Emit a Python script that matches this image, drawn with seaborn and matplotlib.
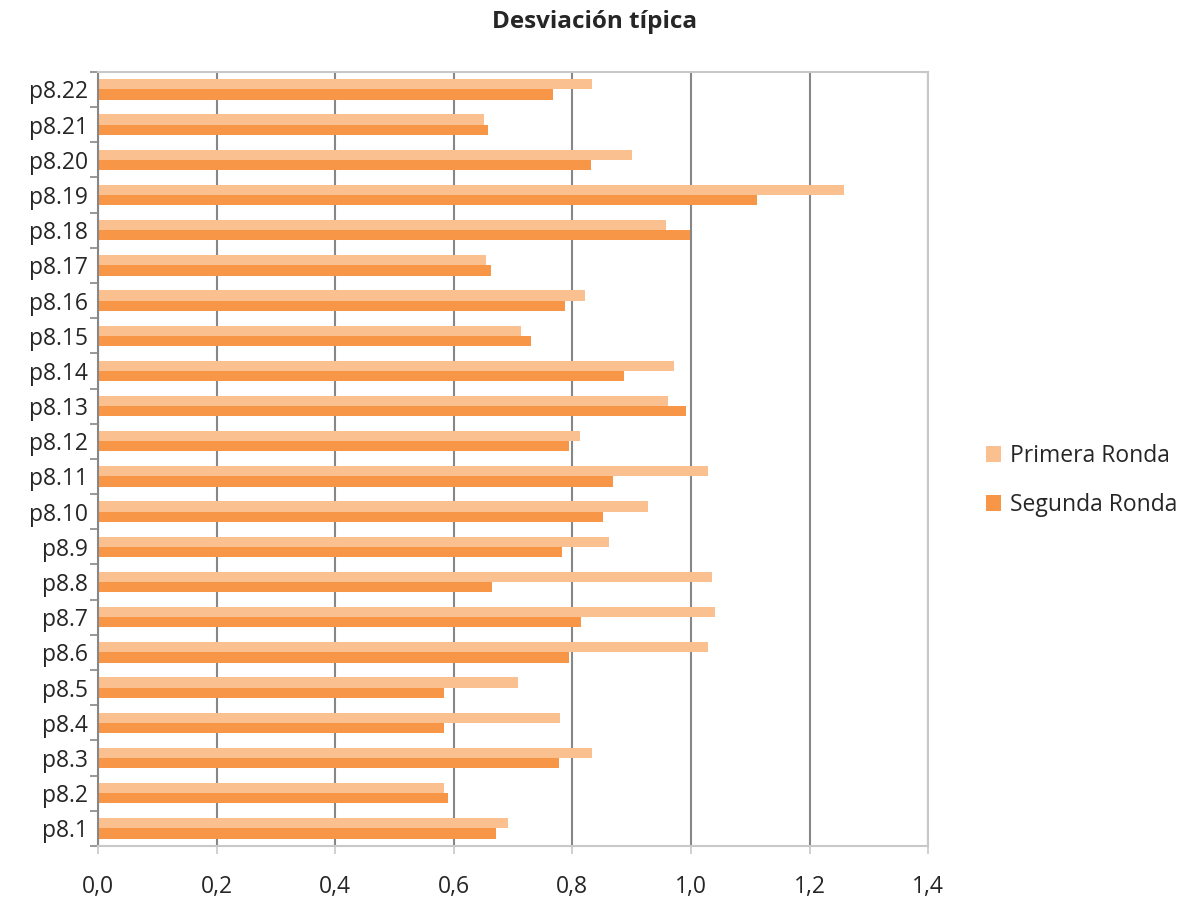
import pandas as pd
import seaborn as sns
import matplotlib
matplotlib.use('Agg')
import matplotlib.pyplot as plt
from matplotlib.ticker import FuncFormatter, FixedLocator

# -------------------------------------------------
# Datos
# -------------------------------------------------
items = ["p8.22", "p8.21", "p8.20", "p8.19", "p8.18", "p8.17", "p8.16", "p8.15",
         "p8.14", "p8.13", "p8.12", "p8.11", "p8.10", "p8.9", "p8.8", "p8.7",
         "p8.6", "p8.5", "p8.4", "p8.3", "p8.2", "p8.1"]
primera = [0.833, 0.651, 0.900, 1.258, 0.958, 0.654, 0.821, 0.714,
           0.971, 0.961, 0.813, 1.029, 0.927, 0.861, 1.036, 1.041,
           1.029, 0.708, 0.780, 0.833, 0.584, 0.691]
segunda = [0.768, 0.657, 0.832, 1.112, 0.998, 0.663, 0.788, 0.731,
           0.887, 0.992, 0.794, 0.869, 0.851, 0.783, 0.665, 0.815,
           0.794, 0.584, 0.584, 0.778, 0.590, 0.672]
series = ["Primera Ronda", "Segunda Ronda"]
colores = ["#FAC090", "#F79646"]
x_ticks = [0.0, 0.2, 0.4, 0.6, 0.8, 1.0, 1.2, 1.4]

df = pd.DataFrame({
    "item": items * 2,
    "valor": primera + segunda,
    "serie": [series[0]] * len(items) + [series[1]] * len(items),
})

# -------------------------------------------------
# Gráfico
# -------------------------------------------------
sns.set_style("white")
plt.rcParams["font.family"] = ["Open Sans", "DejaVu Sans"]

fig = plt.figure(figsize=(11.9, 8.98), dpi=100)
ax = fig.add_axes([0.0824, 0.058, 0.6975, 0.862])

sns.barplot(data=df, y="item", x="valor", hue="serie", order=items,
            hue_order=series, palette=colores, saturation=1, orient="h",
            width=0.58, edgecolor="none", ax=ax)

ax.set_xlim(0, 1.4)
ax.set_ylim(len(items) - 0.5, -0.5)
ax.xaxis.set_major_locator(FixedLocator(x_ticks))
ax.xaxis.set_major_formatter(FuncFormatter(lambda v, p: f"{v:.1f}".replace(".", ",")))
ax.grid(axis="x", color="#878787", linewidth=1.5)
ax.set_axisbelow(True)

# marcas del eje y entre categorías (estilo Excel)
ax.set_yticks([i + 0.5 for i in range(-1, len(items))], minor=True)
ax.tick_params(axis="y", which="major", length=0, labelsize=16.5, pad=7)
ax.tick_params(axis="y", which="minor", length=6, width=1.2, color="#878787", left=True)
ax.tick_params(axis="x", which="major", length=6, width=1.2, color="#c8c8c8",
               bottom=True, labelsize=16.5, pad=15)

for lado in ["top", "right", "bottom"]:
    ax.spines[lado].set_color("#c8c8c8")
    ax.spines[lado].set_linewidth(1.5)
ax.spines["left"].set_color("#878787")
ax.spines["left"].set_linewidth(1.5)

ax.set_xlabel("")
ax.set_ylabel("")

ax.legend(loc="center left", bbox_to_anchor=(1.045, 0.472), frameon=False,
          fontsize=16.5, handlelength=0.65, handleheight=0.65, handletextpad=0.4,
          labelspacing=1.1)

fig.suptitle("Desviación típica", x=0.5, y=0.975, va="center",
             fontsize=17.5, fontweight="bold")

fig.savefig("out.png", dpi=100)
